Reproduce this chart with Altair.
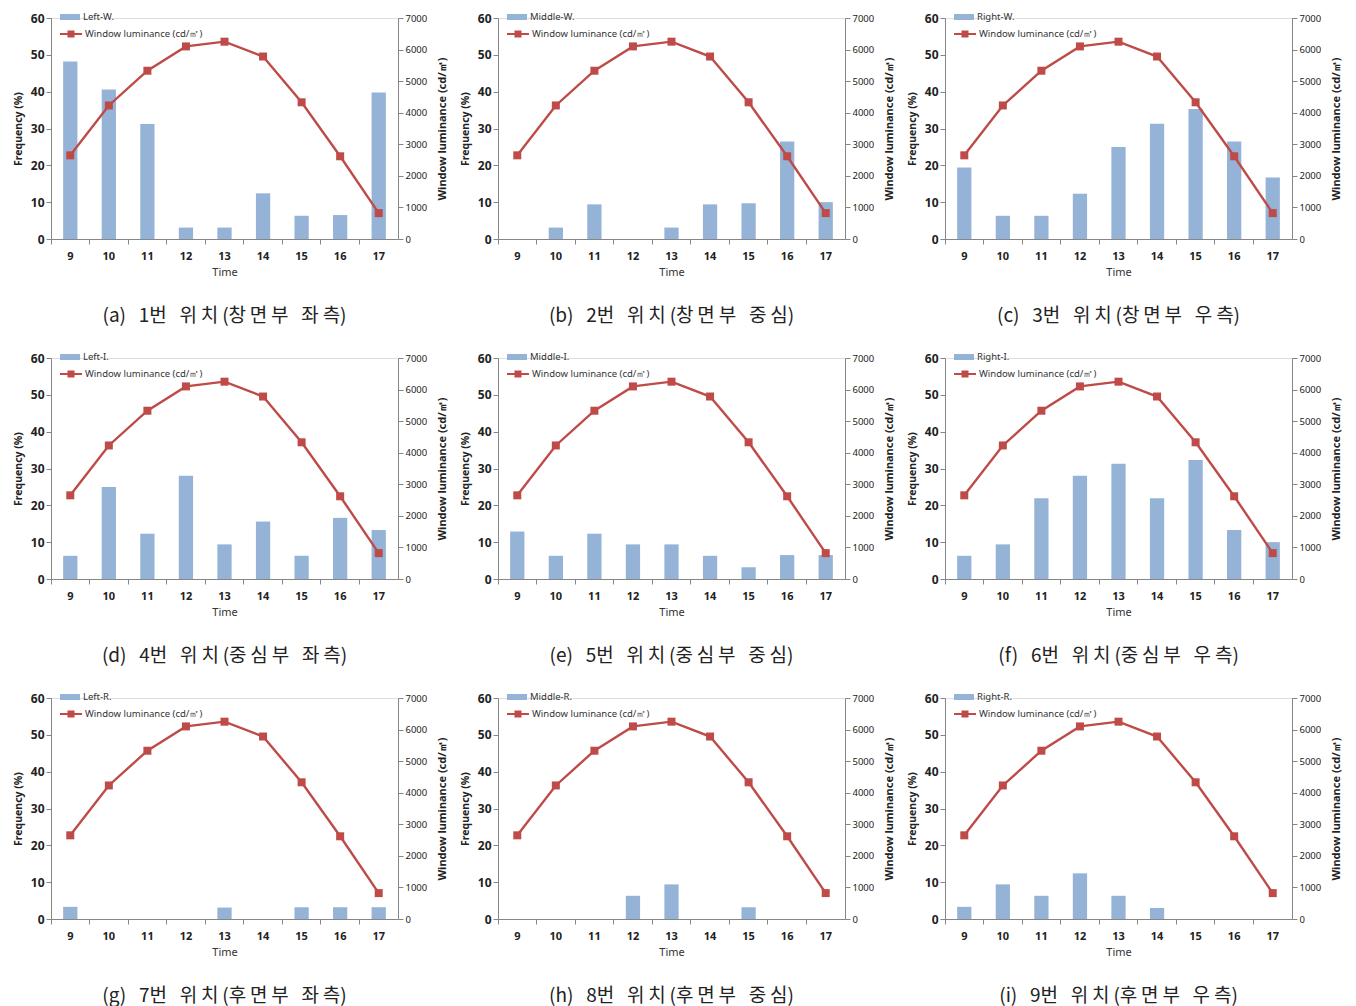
import altair as alt
import pandas as pd

times = [9, 10, 11, 12, 13, 14, 15, 16, 17]
luminance = [2650, 4230, 5330, 6100, 6250, 5780, 4330, 2620, 820]
lum_label = "Window luminance (cd/㎡)"

series_names = ["Left-W.", "Middle-W.", "Right-W.",
                "Left-I.", "Middle-I.", "Right-I.",
                "Left-R.", "Middle-R.", "Right-R."]

freq_a = [48.2, 40.6, 31.2, 3.1, 3.1, 12.4, 6.3, 6.5, 39.8]
freq_b = [0, 3.1, 9.4, 0, 3.1, 9.4, 9.7, 26.5, 10.0]
freq_c = [19.4, 6.3, 6.3, 12.3, 25.0, 31.3, 35.3, 26.5, 16.7]
freq_d = [6.3, 25.0, 12.3, 28.0, 9.4, 15.6, 6.3, 16.6, 13.3]
freq_e = [12.9, 6.3, 12.3, 9.4, 9.4, 6.3, 3.2, 6.5, 6.5]
freq_f = [6.3, 9.4, 21.9, 28.0, 31.3, 21.9, 32.3, 13.3, 10.0]
freq_g = [3.3, 0, 0, 0, 3.1, 0, 3.2, 3.2, 3.2]
freq_h = [0, 0, 0, 6.3, 9.4, 0, 3.2, 0, 0]
freq_i = [3.3, 9.4, 6.3, 12.4, 6.3, 3.0, 0, 0, 0]
freqs = [freq_a, freq_b, freq_c, freq_d, freq_e, freq_f, freq_g, freq_h, freq_i]

captions = [
    "(a)  1번  위치(창면부  좌측)",
    "(b)  2번  위치(창면부  중심)",
    "(c)  3번  위치(창면부  우측)",
    "(d)  4번  위치(중심부  좌측)",
    "(e)  5번  위치(중심부  중심)",
    "(f)  6번  위치(중심부  우측)",
    "(g)  7번  위치(후면부  좌측)",
    "(h)  8번  위치(후면부  중심)",
    "(i)  9번  위치(후면부  우측)",
]


def spaced(c):
    # widen the caption like the original typesetting
    out = []
    for ch in c:
        out.append(ch)
        if "\uac00" <= ch <= "\ud7a3":
            out.append("\u2009")
    return "".join(out).replace("\u2009 ", " ").replace("\u2009)", ")").replace(
        "  ", "\u00a0\u00a0\u00a0")


captions = [spaced(c) for c in captions]

BAR = "#95B3D7"
RED = "#BE4B48"
AXIS = "#868686"
FONT = "Noto Sans"
KFONT = "Noto Sans CJK KR"


def panel(k):
    df = pd.DataFrame({
        "Time": times,
        "freq": freqs[k],
        "lum": luminance,
        "s1": [series_names[k]] * len(times),
        "s2": [lum_label] * len(times),
    })
    xenc = alt.X(
        "Time:O",
        scale=alt.Scale(paddingInner=0, paddingOuter=0),
        axis=alt.Axis(
            title="Time", labelAngle=0, bandPosition=0,
            labelFont=FONT, labelFontSize=11, labelFontWeight="bold", labelColor="#222",
            titleFont=FONT, titleFontSize=11, titleFontWeight="normal", titleColor="#333",
            domainColor=AXIS, tickColor=AXIS, tickSize=5, labelPadding=6, titlePadding=5,
        ),
    )
    base = alt.Chart(df).encode(x=xenc)
    bars = base.mark_bar(width=alt.RelativeBandSize(0.37)).encode(
        y=alt.Y(
            "freq:Q",
            scale=alt.Scale(domain=[0, 60], nice=False),
            axis=alt.Axis(
                title="Frequency (%)", values=[0, 10, 20, 30, 40, 50, 60],
                labelFont=FONT, labelFontSize=12, labelFontWeight="bold", labelColor="#222",
                titleFont=FONT, titleFontSize=10.5, titleFontWeight="bold", titleColor="#222",
                domainColor=AXIS, tickColor=AXIS, tickSize=5, grid=False, titlePadding=7,
            ),
        ),
        color=alt.Color(
            "s1:N", scale=alt.Scale(range=[BAR]), title=None,
            legend=alt.Legend(
                orient="none", legendX=8, legendY=-12,
                symbolType="M-1,-0.3H1V0.3H-1Z", symbolSize=400, symbolOpacity=1,
                labelFont=FONT, labelFontSize=9.5, labelColor="#333", labelOffset=2,
            ),
        ),
    )
    yl = alt.Scale(domain=[0, 7000], nice=False)
    line = base.mark_line(color=RED, strokeWidth=2.4).encode(
        y=alt.Y(
            "lum:Q", scale=yl,
            axis=alt.Axis(
                orient="right", title=lum_label, titleAngle=270, titleBaseline="top",
                format="d", values=[0, 1000, 2000, 3000, 4000, 5000, 6000, 7000],
                labelFont=FONT, labelFontSize=9.5, labelColor="#222",
                titleFont=FONT, titleFontSize=11, titleFontWeight="bold", titleColor="#222",
                domainColor=AXIS, tickColor=AXIS, tickSize=5, grid=False, titlePadding=10,
            ),
        ),
    )
    pts = base.mark_square(size=64, opacity=1).encode(
        y=alt.Y("lum:Q", scale=yl, axis=None),
        fill=alt.Fill(
            "s2:N", scale=alt.Scale(range=[RED]), title=None,
            legend=alt.Legend(
                orient="none", legendX=8, legendY=4,
                symbolType="M-1,-0.09H1V0.09H-1Z M-0.32,-0.32H0.32V0.32H-0.32Z",
                symbolSize=484, symbolOpacity=1,
                labelFont=FONT, labelFontSize=9.5, labelColor="#333", labelOffset=2,
            ),
        ),
    )
    return alt.layer(bars, line, pts).resolve_scale(y="independent").properties(
        width=347, height=221,
        title=alt.TitleParams(
            text=captions[k], orient="bottom", font=KFONT, fontSize=19,
            fontWeight="normal", color="#222", offset=30, anchor="middle",
        ),
    )


chart = alt.concat(
    *[panel(k) for k in range(9)], columns=3,
    spacing=alt.RowColnumber(row=119, column=100),
    bounds="flush",
).resolve_scale(
    color="independent", fill="independent"
).properties(padding={"left": 4, "top": -3, "right": 5, "bottom": 0}).configure_view(
    stroke="transparent"
).configure(background="white")

chart.save("out.html", embed_options={"renderer": "svg", "actions": False})
